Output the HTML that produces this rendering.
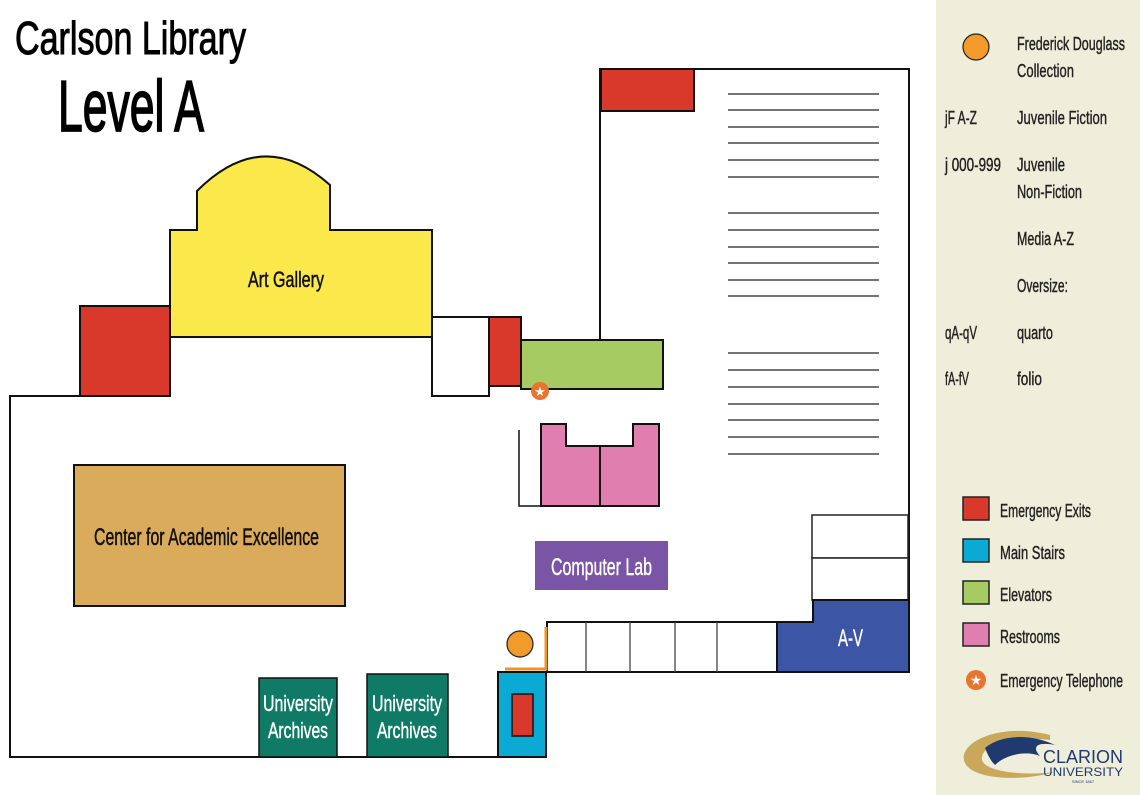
<!DOCTYPE html>
<html><head><meta charset="utf-8"><style>
html,body{margin:0;padding:0;background:#fff;}
svg{display:block;}
text{font-family:"Liberation Sans Narrow","Liberation Sans",sans-serif;}
</style></head><body>
<svg width="1140" height="795" viewBox="0 0 1140 795" xmlns="http://www.w3.org/2000/svg">
<rect x="0" y="0" width="1140" height="795" fill="#fff"/>
<rect x="936" y="0" width="204" height="795" fill="#efeedb"/>

<text x="15" y="54" font-size="46" textLength="231" lengthAdjust="spacingAndGlyphs" fill="#000" stroke="#000" stroke-width="1">Carlson Library</text>
<text x="58" y="131" font-size="72" textLength="146" lengthAdjust="spacingAndGlyphs" fill="#000" stroke="#000" stroke-width="1.8">Level A</text>

<g stroke="#111" stroke-width="2" fill="none">
<polyline points="80,396 10,396 10,757 498,757"/>
<polyline points="600,340 600,69 909,69 909,600"/>
<rect x="432" y="317" width="57" height="79" fill="#fff"/>
<polyline points="541,506 519,506 519,430" stroke-width="1.5"/>
</g>

<path d="M170,230 L197,230 L197,191 Q263,125 330,185 L330,230 L432,230 L432,337 L170,337 Z" fill="#fbe84a" stroke="#111" stroke-width="2"/>
<text x="248" y="287" font-size="22" textLength="76" lengthAdjust="spacingAndGlyphs" fill="#111" stroke="#111" stroke-width="0.5">Art Gallery</text>

<rect x="80" y="306" width="90" height="90" fill="#d9392b" stroke="#111" stroke-width="2"/>
<rect x="489" y="317" width="32" height="69" fill="#d9392b" stroke="#111" stroke-width="2"/>
<rect x="601" y="69" width="93" height="42" fill="#d9392b" stroke="#111" stroke-width="2"/>

<rect x="521" y="340" width="142" height="49" fill="#a5cb62" stroke="#111" stroke-width="2"/>
<circle cx="540" cy="391" r="9" fill="#e8752f"/>
<text x="540" y="396" font-size="13" text-anchor="middle" fill="#fff" font-family="DejaVu Sans">★</text>

<path d="M541,424 L566,424 L566,446 L633,446 L633,424 L659,424 L659,506 L541,506 Z" fill="#e07eb0" stroke="#111" stroke-width="2"/>
<line x1="600" y1="446" x2="600" y2="506" stroke="#111" stroke-width="2"/>

<rect x="74" y="465" width="271" height="141" fill="#dbab5c" stroke="#111" stroke-width="2"/>
<text x="94" y="545" font-size="24" textLength="225" lengthAdjust="spacingAndGlyphs" fill="#111" stroke="#111" stroke-width="0.5">Center for Academic Excellence</text>

<rect x="535" y="541" width="133" height="49" fill="#7a55a6"/>
<text x="551" y="575" font-size="24" textLength="101" lengthAdjust="spacingAndGlyphs" fill="#fff" stroke="#fff" stroke-width="0.4">Computer Lab</text>

<g stroke="#222" stroke-width="1.3">
<line x1="728" y1="94" x2="879" y2="94"/><line x1="728" y1="110" x2="879" y2="110"/><line x1="728" y1="127" x2="879" y2="127"/><line x1="728" y1="143" x2="879" y2="143"/><line x1="728" y1="160" x2="879" y2="160"/><line x1="728" y1="177" x2="879" y2="177"/>
<line x1="728" y1="213" x2="879" y2="213"/><line x1="728" y1="230" x2="879" y2="230"/><line x1="728" y1="247" x2="879" y2="247"/><line x1="728" y1="263" x2="879" y2="263"/><line x1="728" y1="280" x2="879" y2="280"/><line x1="728" y1="296" x2="879" y2="296"/>
<line x1="728" y1="353" x2="879" y2="353"/><line x1="728" y1="370" x2="879" y2="370"/><line x1="728" y1="387" x2="879" y2="387"/><line x1="728" y1="404" x2="879" y2="404"/><line x1="728" y1="420" x2="879" y2="420"/><line x1="728" y1="437" x2="879" y2="437"/><line x1="728" y1="454" x2="879" y2="454"/>
</g>

<rect x="812" y="515" width="96" height="43" fill="#fff" stroke="#222" stroke-width="1.5"/>
<rect x="812" y="558" width="96" height="42" fill="#fff" stroke="#222" stroke-width="1.5"/>
<path d="M777,622 L813,622 L813,600 L909,600 L909,672 L777,672 Z" fill="#3c55a5" stroke="#111" stroke-width="2"/>
<text x="838" y="646" font-size="24" textLength="25" lengthAdjust="spacingAndGlyphs" fill="#fff" stroke="#fff" stroke-width="0.4">A-V</text>

<rect x="547" y="622" width="230" height="50" fill="#fff" stroke="#111" stroke-width="2"/>
<g stroke="#444" stroke-width="1.3">
<line x1="586" y1="622" x2="586" y2="672"/><line x1="630" y1="622" x2="630" y2="672"/><line x1="675" y1="622" x2="675" y2="672"/><line x1="717" y1="622" x2="717" y2="672"/>
</g>
<polyline points="505,669 546,669 546,627" fill="none" stroke="#ef9423" stroke-width="3"/>
<circle cx="520" cy="644" r="13" fill="#f29a2a" stroke="#222" stroke-width="1.2"/>

<rect x="498" y="672" width="48" height="85" fill="#0aaad4" stroke="#111" stroke-width="2"/>
<rect x="512" y="694" width="21" height="42" fill="#d9392b" stroke="#111" stroke-width="1.5"/>

<g fill="#fff" stroke="#fff" stroke-width="0.4" font-size="22" text-anchor="middle">
<rect x="259" y="678" width="78" height="79" fill="#0f7b66" stroke="#111" stroke-width="1.5"/>
<text x="298" y="711" textLength="70" lengthAdjust="spacingAndGlyphs">University</text>
<text x="298" y="738" textLength="60" lengthAdjust="spacingAndGlyphs">Archives</text>
<rect x="367" y="674" width="81" height="83" fill="#0f7b66" stroke="#111" stroke-width="1.5"/>
<text x="407" y="711" textLength="70" lengthAdjust="spacingAndGlyphs">University</text>
<text x="407" y="738" textLength="60" lengthAdjust="spacingAndGlyphs">Archives</text>
</g>

<g fill="#222" stroke="#222" stroke-width="0.4" font-size="18">
<circle cx="976" cy="47" r="13" fill="#f29a2a" stroke="#222" stroke-width="1.2"/>
<text x="1017" y="50" textLength="108" lengthAdjust="spacingAndGlyphs">Frederick Douglass</text>
<text x="1017" y="77" textLength="57" lengthAdjust="spacingAndGlyphs">Collection</text>
<text x="945" y="124" textLength="32" lengthAdjust="spacingAndGlyphs">jF A-Z</text>
<text x="1017" y="124" textLength="90" lengthAdjust="spacingAndGlyphs">Juvenile Fiction</text>
<text x="945" y="171" textLength="56" lengthAdjust="spacingAndGlyphs">j 000-999</text>
<text x="1017" y="171" textLength="48" lengthAdjust="spacingAndGlyphs">Juvenile</text>
<text x="1017" y="198" textLength="65" lengthAdjust="spacingAndGlyphs">Non-Fiction</text>
<text x="1017" y="245" textLength="57" lengthAdjust="spacingAndGlyphs">Media A-Z</text>
<text x="1017" y="292" textLength="51" lengthAdjust="spacingAndGlyphs">Oversize:</text>
<text x="945" y="339" textLength="32" lengthAdjust="spacingAndGlyphs">qA-qV</text>
<text x="1017" y="339" textLength="36" lengthAdjust="spacingAndGlyphs">quarto</text>
<text x="945" y="385" textLength="24" lengthAdjust="spacingAndGlyphs">fA-fV</text>
<text x="1017" y="385" textLength="25" lengthAdjust="spacingAndGlyphs">folio</text>

<rect x="963" y="497" width="26" height="23" fill="#d9392b" stroke="#222" stroke-width="1.5"/>
<text x="1000" y="517" textLength="91" lengthAdjust="spacingAndGlyphs">Emergency Exits</text>
<rect x="963" y="539" width="26" height="23" fill="#0aaad4" stroke="#222" stroke-width="1.5"/>
<text x="1000" y="559" textLength="65" lengthAdjust="spacingAndGlyphs">Main Stairs</text>
<rect x="963" y="581" width="26" height="23" fill="#a5cb62" stroke="#222" stroke-width="1.5"/>
<text x="1000" y="601" textLength="52" lengthAdjust="spacingAndGlyphs">Elevators</text>
<rect x="963" y="623" width="26" height="23" fill="#e07eb0" stroke="#222" stroke-width="1.5"/>
<text x="1000" y="643" textLength="60" lengthAdjust="spacingAndGlyphs">Restrooms</text>
<circle cx="976" cy="680" r="10" fill="#e8752f" stroke="none"/>
<text x="976" y="685" font-size="14" text-anchor="middle" fill="#fff" stroke="none" font-family="DejaVu Sans">★</text>
<text x="1000" y="687" textLength="123" lengthAdjust="spacingAndGlyphs">Emergency Telephone</text>
</g>

<path d="M1050,735 C1000,722 960,742 964,760 C968,780 1020,782 1055,772 C1025,776 985,772 982,760 C980,745 1010,735 1050,740 Z" fill="#c9a85c"/>
<path d="M985,748 C1000,735 1030,733 1055,745 C1040,742 1030,745 1040,756 C1025,750 1005,755 995,765 C990,760 988,755 985,748 Z" fill="#1f3a6e"/>
<text x="1043" y="763" font-size="18" textLength="80" lengthAdjust="spacingAndGlyphs" fill="#1f3a6e" font-family="Liberation Serif,serif">CLARION</text>
<text x="1043" y="776" font-size="12" textLength="80" lengthAdjust="spacingAndGlyphs" fill="#1f3a6e" font-family="Liberation Serif,serif">UNIVERSITY</text>
<text x="1083" y="783" font-size="4" text-anchor="middle" fill="#1f3a6e">SINCE 1867</text>
</svg>
</body></html>
